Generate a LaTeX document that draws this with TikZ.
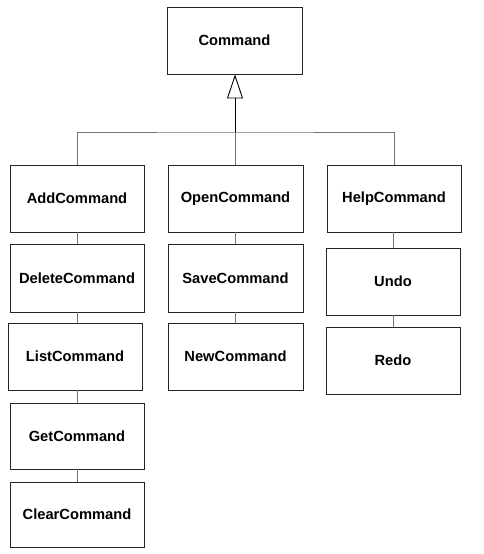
\documentclass[tikz,border=0pt]{standalone}
\usepackage{fontspec}
\setmainfont{Liberation Sans}
\usetikzlibrary{arrows.meta}
\begin{document}
\begin{tikzpicture}[x=1pt,y=-1pt,
  cls/.style={draw=black!85,line width=0.9pt,fill=white,minimum width=134pt,minimum height=67pt,inner sep=0pt,font=\fontsize{14.7}{16}\selectfont\bfseries},
  conn/.style={draw=black!55,line width=0.9pt},
  gen/.style={draw=black,line width=1pt,-{Triangle[open,length=24pt,width=16pt,line width=0.9pt]}}]
\useasboundingbox (0,0) rectangle (484,554);
\node[cls,minimum width=135pt] (cmd) at (234.5,40.5) {Command};
\node[cls] (add) at (77,198.5) {AddCommand};
\node[cls,minimum height=68pt] (del) at (77,278) {DeleteCommand};
\node[cls] (list) at (75,356.5) {ListCommand};
\node[cls,minimum height=66pt] (get) at (77,436) {GetCommand};
\node[cls,minimum height=65pt] (clear) at (77,514.5) {ClearCommand};
\node[cls,minimum width=135pt] (open) at (235.5,198.5) {OpenCommand};
\node[cls,minimum width=135pt,minimum height=68pt] (save) at (235.5,278) {SaveCommand};
\node[cls,minimum width=135pt] (new) at (235.5,356.5) {NewCommand};
\node[cls] (help) at (394,198.5) {HelpCommand};
\node[cls] (undo) at (393,281.5) {Undo};
\node[cls] (redo) at (393,360.5) {Redo};
\coordinate (bar) at (235,132);
\draw[conn] (add.north) |- (bar) -| (help.north);
\draw[conn] (bar) -- (bar |- open.north);
\draw[gen] (bar) -- (bar |- cmd.south);
\draw[conn] (add.south) -- (del.north);
\draw[conn] (del.south) -- (del.south |- list.north);
\draw[conn] (del.south |- list.south) -- (get.north);
\draw[conn] (get.south) -- (clear.north);
\draw[conn] (open.south) -- (save.north);
\draw[conn] (save.south) -- (new.north);
\draw[conn] (undo.north |- help.south) -- (undo.north);
\draw[conn] (undo.south) -- (redo.north);
\end{tikzpicture}
\end{document}
